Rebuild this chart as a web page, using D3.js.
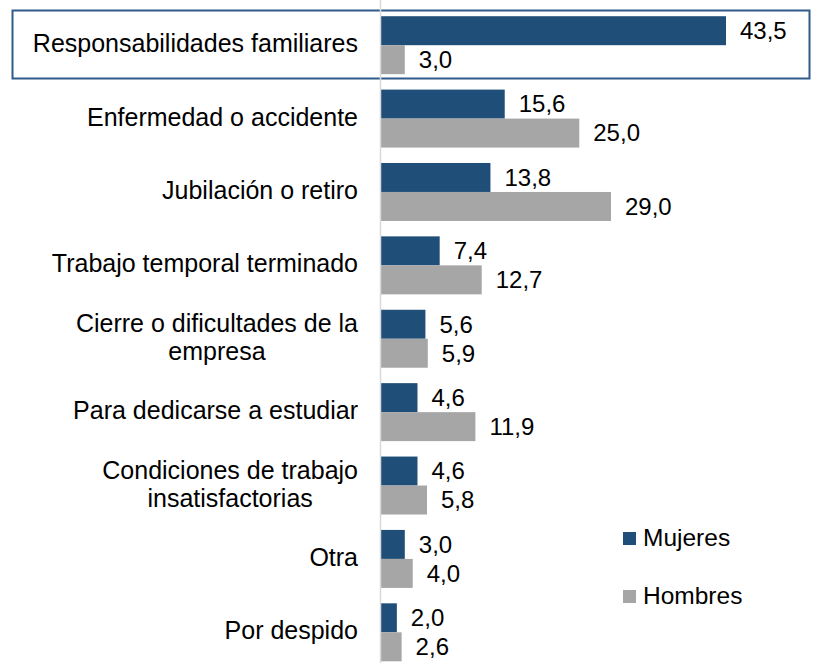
<!DOCTYPE html>
<html>
<head>
<meta charset="utf-8">
<script src="https://cdn.jsdelivr.net/npm/d3@7"></script>
<style>
  body { margin: 0; background: #fff; }
  svg { display: block; font-family: "Liberation Sans", Arial, sans-serif; }
</style>
</head>
<body>
<div class="container"></div>
<script>
// Categories (each one may have several lines) and values
const categories = [
    ["Responsabilidades familiares"],
    ["Enfermedad o accidente"],
    ["Jubilación o retiro"],
    ["Trabajo temporal terminado"],
    ["Cierre o dificultades de la", "empresa"],
    ["Para dedicarse a estudiar"],
    ["Condiciones de trabajo", "insatisfactorias"],
    ["Otra"],
    ["Por despido"]
];
const mujeres = [43.5, 15.6, 13.8, 7.4, 5.6, 4.6, 4.6, 3.0, 2.0];
const hombres = [3.0, 25.0, 29.0, 12.7, 5.9, 11.9, 5.8, 4.0, 2.6];
const seriesNames = ["Mujeres", "Hombres"];
const colors = ["#1F4E79", "#A6A6A6"];

const width = 813;
const height = 663;
const axisX = 381;

const svg = d3.select(".container")
    .append("svg")
    .attr("width", width)
    .attr("height", height);

const x = d3.scaleLinear()
    .domain([0, 43.5])
    .range([axisX, 726]);

const y = d3.scaleBand()
    .domain(d3.range(categories.length))
    .range([8.5, 669])
    .paddingInner(0.21)
    .paddingOuter(0.105);

const inner = d3.scaleBand()
    .domain(seriesNames)
    .range([0, y.bandwidth()]);

const fmt = v => d3.format(".1f")(v).replace(".", ",");

// Highlight box around the first category
svg.append("rect")
    .attr("x", 12.5)
    .attr("y", 10.5)
    .attr("width", 797)
    .attr("height", 68)
    .attr("fill", "none")
    .attr("stroke", "#2E5B8A")
    .attr("stroke-width", 2);

const rows = categories.map((c, i) => ({ label: c, values: [mujeres[i], hombres[i]], i }));

const g = svg.append("g")
    .selectAll("g")
    .data(rows)
    .enter()
    .append("g")
    .attr("transform", d => `translate(0,${y(d.i)})`);

// Bars
g.selectAll("rect")
    .data(d => d.values.map((v, k) => ({ v, k })))
    .enter()
    .append("rect")
    .attr("x", x(0))
    .attr("y", d => inner(seriesNames[d.k]))
    .attr("width", d => x(d.v) - x(0))
    .attr("height", inner.bandwidth())
    .attr("fill", d => colors[d.k]);

// Value labels
g.selectAll("text.value")
    .data(d => d.values.map((v, k) => ({ v, k })))
    .enter()
    .append("text")
    .attr("class", "value")
    .attr("x", d => x(d.v) + 14)
    .attr("y", d => inner(seriesNames[d.k]) + inner.bandwidth() / 2 + 2)
    .attr("dominant-baseline", "middle")
    .attr("font-size", 24)
    .attr("fill", "#000")
    .text(d => fmt(d.v));

// Category labels
const lineH = 28;
g.each(function (d) {
    const lines = d.label;
    const t = d3.select(this).append("text")
        .attr("font-size", 25)
        .attr("fill", "#000")
        .attr("dominant-baseline", "middle");
    lines.forEach((ln, j) => {
        t.append("tspan")
            .attr("y", y.bandwidth() / 2 + (j - (lines.length - 1) / 2) * lineH)
            .text(ln);
    });
    // right-align the block, center the lines inside it
    const tspans = t.selectAll("tspan").nodes();
    const maxW = d3.max(tspans, n => n.getComputedTextLength());
    const cx = 358 - maxW / 2;
    t.attr("text-anchor", "middle");
    t.selectAll("tspan").attr("x", cx);
});

// Vertical axis line
svg.append("line")
    .attr("x1", x(0) - 0.5)
    .attr("x2", x(0) - 0.5)
    .attr("y1", 0)
    .attr("y2", height)
    .attr("stroke", "#D9D9D9")
    .attr("stroke-width", 1.5);

// Legend
const legend = svg.append("g")
    .selectAll("g")
    .data(seriesNames)
    .enter()
    .append("g")
    .attr("transform", (d, i) => `translate(623,${532 + i * 58})`);

legend.append("rect")
    .attr("width", 13)
    .attr("height", 13)
    .attr("fill", (d, i) => colors[i]);

legend.append("text")
    .attr("x", 20)
    .attr("y", 8)
    .attr("dominant-baseline", "middle")
    .attr("font-size", 24.5)
    .text(d => d);
</script>
</body>
</html>
